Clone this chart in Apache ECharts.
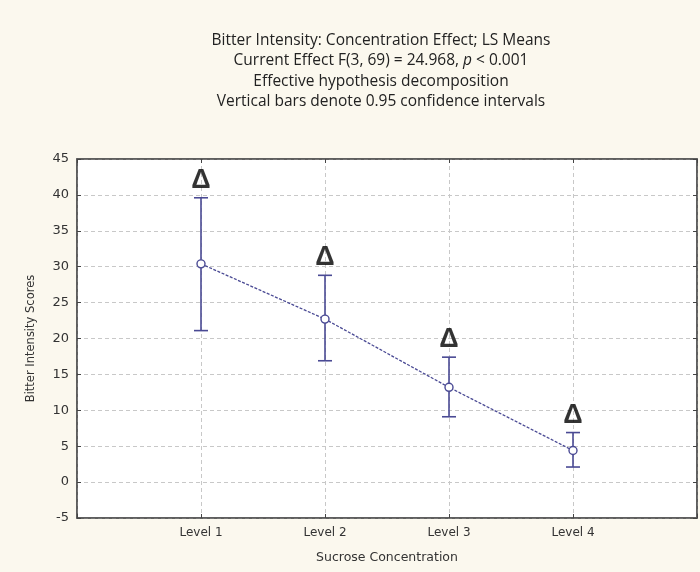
<!DOCTYPE html>
<html><head><meta charset="utf-8">
<script src="https://cdn.jsdelivr.net/npm/echarts@6/dist/echarts.min.js"></script>
<style>html,body{margin:0;padding:0;background:#fbf8ee}#c{width:700px;height:572px}</style>
</head><body><div id="c"></div>
<script>
const levels = ['Level 1', 'Level 2', 'Level 3', 'Level 4'];
const means = [30.4, 22.7, 13.2, 4.4];
const upper = [39.6, 28.8, 17.4, 6.9];
const lower = [21.1, 16.9, 9.1, 2.1];
const marks = ['Δ', 'Δ', 'Δ', 'Δ'];
const yTicks = [-5, 0, 5, 10, 15, 20, 25, 30, 35, 40, 45];

const chart = echarts.init(document.getElementById('c'), null, {renderer: 'canvas'});
const lineColor = '#4a4a94';
const axisFont = 'DejaVu Sans';
const meanData = means.map((v, i) => [i + 1, v]);
const errData = levels.map((l, i) => [i + 1, lower[i], upper[i]]);
const markData = upper.map((v, i) => [i + 1, v, marks[i]]);
const frame = {color: '#555', width: 1.5};

chart.setOption({
  backgroundColor: '#fbf8ee',
  animation: false,
  title: {
    text: '{n|Bitter Intensity: Concentration Effect; LS Means}\n{n|Current Effect F(3, 69) = 24.968, }{i|p}{n| < 0.001}\n{n|Effective hypothesis decomposition}\n{n|Vertical bars denote 0.95 confidence intervals}',
    left: 376, top: 25, textAlign: 'center',
    textStyle: {
      fontWeight: 'normal',
      rich: {
        n: {fontFamily: 'Open Sans', fontSize: 15.5, fontWeight: 'normal', color: '#222', lineHeight: 20.5},
        i: {fontFamily: 'Open Sans', fontSize: 15.5, fontWeight: 'normal', color: '#222', fontStyle: 'italic', lineHeight: 20.5}
      }
    }
  },
  grid: {left: 77, right: 3, top: 159, bottom: 54, show: true, backgroundColor: '#ffffff', borderColor: '#555', borderWidth: 1.5},
  xAxis: [{
    type: 'value', min: 0, max: 5, interval: 1,
    name: 'Sucrose Concentration', nameLocation: 'middle', nameGap: 33,
    nameTextStyle: {fontFamily: axisFont, fontSize: 12.5, color: '#333'},
    axisLine: {show: true, onZero: false, lineStyle: frame},
    axisTick: {show: true, inside: true, length: 4, lineStyle: {color: '#444'}},
    axisLabel: {formatter: v => (v >= 1 && v <= levels.length) ? levels[v - 1] : '', fontFamily: axisFont, fontSize: 12, color: '#333', margin: 9},
    splitLine: {show: true, lineStyle: {color: '#c8c8c8', type: [4, 3]}}
  }, {
    type: 'value', min: 0, max: 5, interval: 1, position: 'top',
    axisLine: {show: true, onZero: false, lineStyle: frame}, axisTick: {show: true, inside: true, length: 4, lineStyle: {color: '#444'}},
    axisLabel: {show: false}, splitLine: {show: false}
  }],
  yAxis: [{
    type: 'value', min: -5, max: 45, interval: 5,
    name: 'Bitter Intensity Scores', nameLocation: 'middle', nameGap: 40,
    nameTextStyle: {fontFamily: axisFont, fontSize: 11.5, color: '#333'},
    axisLine: {show: true, onZero: false, lineStyle: frame},
    axisTick: {show: true, inside: true, length: 4, lineStyle: {color: '#444'}},
    axisLabel: {formatter: v => yTicks.includes(v) ? String(v) : '', fontFamily: axisFont, fontSize: 13, color: '#333', margin: 8},
    splitLine: {show: true, lineStyle: {color: '#c8c8c8', type: [4, 3]}}
  }, {
    type: 'value', min: -5, max: 45, interval: 5, position: 'right',
    axisLine: {show: true, onZero: false, lineStyle: frame}, axisTick: {show: true, inside: true, length: 4, lineStyle: {color: '#444'}},
    axisLabel: {show: false}, splitLine: {show: false}
  }],
  series: [{
    type: 'custom',
    data: errData,
    z: 3,
    renderItem: function (params, api) {
      const x = api.value(0);
      const lo = api.coord([x, api.value(1)]);
      const hi = api.coord([x, api.value(2)]);
      const w = 7;
      const style = {stroke: lineColor, lineWidth: 1.6};
      return {type: 'group', children: [
        {type: 'line', shape: {x1: lo[0], y1: lo[1], x2: hi[0], y2: hi[1]}, style},
        {type: 'line', shape: {x1: lo[0] - w, y1: lo[1], x2: lo[0] + w, y2: lo[1]}, style},
        {type: 'line', shape: {x1: hi[0] - w, y1: hi[1], x2: hi[0] + w, y2: hi[1]}, style}
      ]};
    }
  }, {
    type: 'line',
    data: meanData,
    z: 4,
    symbol: 'circle', symbolSize: 8,
    lineStyle: {color: lineColor, width: 1.3, type: [3, 1.5]},
    itemStyle: {color: '#ffffff', borderColor: lineColor, borderWidth: 1.4}
  }, {
    type: 'scatter',
    data: markData,
    symbolSize: 0,
    z: 5,
    label: {show: true, position: 'top', distance: 4, formatter: p => p.value[2], fontFamily: 'Liberation Sans', fontWeight: 'bold', fontSize: 27, color: '#000'}
  }]
});
</script></body></html>
